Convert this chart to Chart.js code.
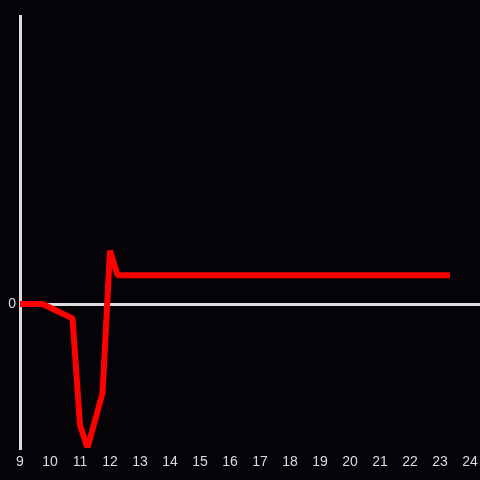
<!DOCTYPE html>
<html>
<head>
<meta charset="utf-8">
<script src="https://cdn.jsdelivr.net/npm/chart.js@4/dist/chart.umd.min.js"></script>
<style>
html,body{margin:0;padding:0;background:#050307;}
#wrap{width:480px;height:480px;}
</style>
</head>
<body>
<div id="wrap"><canvas id="c" width="480" height="480"></canvas></div>
<script>
const xValues = [9, 9.75, 10.75, 11, 11.25, 11.75, 12, 12.25, 23.33];
const yValues = [0, 0, -0.1, -0.84, -1.0, -0.62, 0.37, 0.2, 0.2];
const xTicks = [9,10,11,12,13,14,15,16,17,18,19,20,21,22,23,24];
const yTicks = [0];

const points = xValues.map((x, i) => ({x: x, y: yValues[i]}));

new Chart(document.getElementById('c'), {
  type: 'line',
  data: {
    datasets: [{
      data: points,
      borderColor: '#ff0000',
      borderWidth: 6,
      borderJoinStyle: 'bevel',
      pointRadius: 0,
      tension: 0,
      fill: false
    }]
  },
  options: {
    responsive: false,
    animation: false,
    layout: {padding: {top: 16, left: 0, right: 0, bottom: 0}},
    plugins: {legend: {display: false}, tooltip: {enabled: false}},
    scales: {
      x: {
        type: 'linear',
        min: 9,
        max: 24.333,
        afterBuildTicks: s => { s.ticks = xTicks.map(v => ({value: v})); },
        afterFit: s => { s.height = 32; s.paddingLeft = 0; s.paddingRight = 0; },
        grid: {display: false, drawTicks: false},
        border: {display: false},
        ticks: {color: '#dddddd', padding: 6, font: {family: 'Liberation Sans, Arial', size: 14}, maxRotation: 0, autoSkip: false}
      },
      y: {
        type: 'linear',
        min: -1,
        max: 2,
        afterBuildTicks: s => { s.ticks = yTicks.map(v => ({value: v})); },
        afterFit: s => { s.width = 20; },
        grid: {
          drawTicks: false,
          color: c => (c.tick && c.tick.value === 0) ? '#dddddd' : 'rgba(0,0,0,0)',
          lineWidth: 3
        },
        border: {display: true, color: '#dddddd', width: 3},
        ticks: {color: '#dddddd', padding: 4, font: {family: 'Liberation Sans, Arial', size: 14}}
      }
    }
  }
});
</script>
</body>
</html>
